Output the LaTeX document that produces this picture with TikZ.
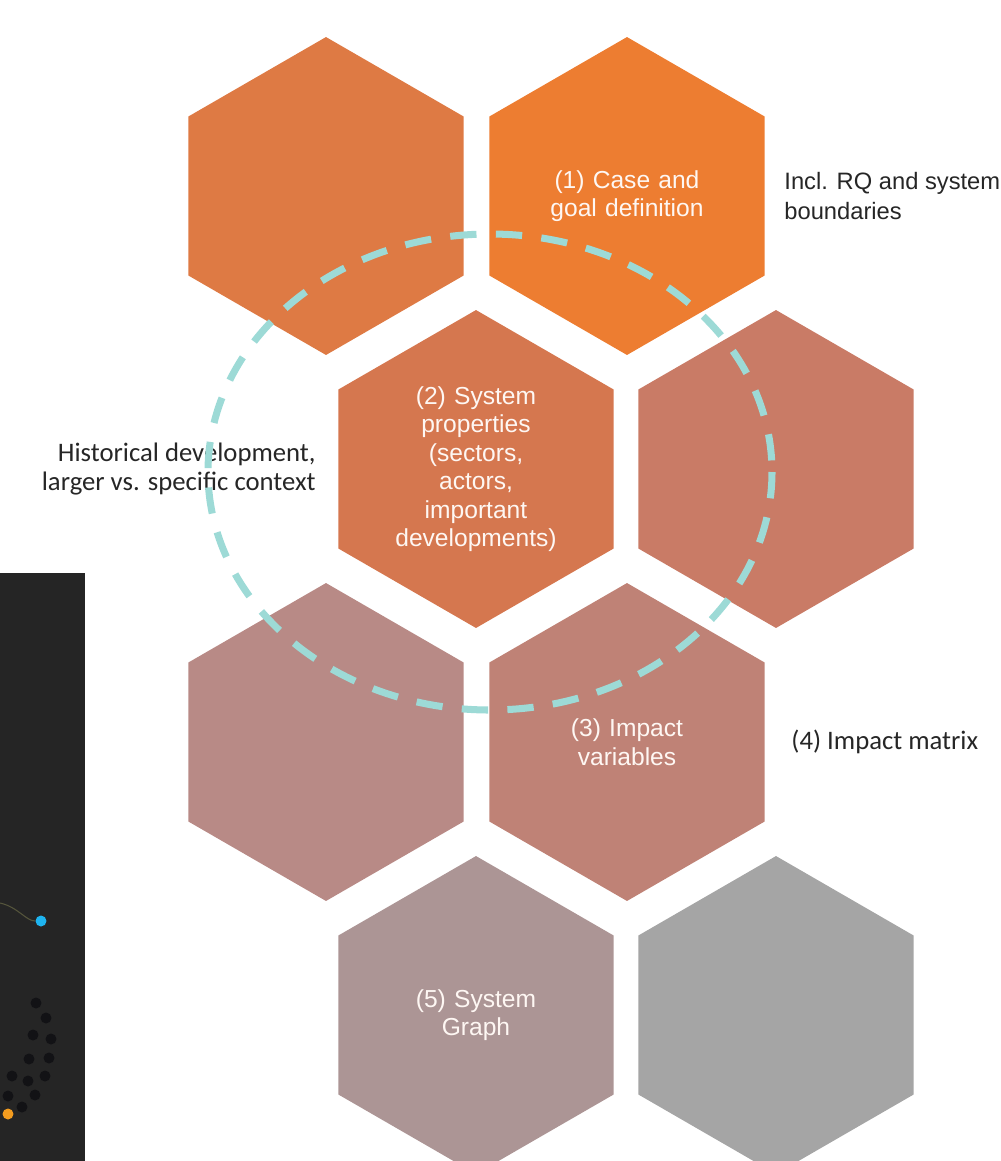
\documentclass[tikz,border=0pt]{standalone}
\usepackage{fontspec}
\setmainfont{Liberation Sans}
\newfontfamily\arialfont{Liberation Sans}
\newfontfamily\notefont{Carlito}
\usepackage{xcolor}
\definecolor{hexa}{HTML}{DE7A44}
\definecolor{hexb}{HTML}{ED7D31}
\definecolor{hexc}{HTML}{D5774F}
\definecolor{hexd}{HTML}{C97B66}
\definecolor{hexe}{HTML}{B88A86}
\definecolor{hexf}{HTML}{BF8276}
\definecolor{hexg}{HTML}{AC9595}
\definecolor{hexh}{HTML}{A5A5A5}
\definecolor{ringteal}{HTML}{9DDAD6}
\definecolor{textdark}{HTML}{262626}
\definecolor{panelbg}{HTML}{252525}
\definecolor{dotblue}{HTML}{1EB4F0}
\definecolor{dotorange}{HTML}{F39C1F}
\definecolor{dotdark}{HTML}{121215}
\definecolor{trail}{HTML}{55553C}
\usepackage{tikz}
\usetikzlibrary{shapes.geometric,positioning}

\begin{document}
\begin{tikzpicture}[x=0.02cm, y=-0.02cm,
    hex/.style={regular polygon, regular polygon sides=6, shape border rotate=30, minimum size=6.36cm, inner sep=0pt, text=white!94!hexb, font=\arialfont\fontsize{14}{16.2}\selectfont, align=center, text width=3.8cm},
    sidenote/.style={font=\arialfont\fontsize{13.5}{17}\selectfont, text=textdark, align=left, inner sep=0pt},
    calnote/.style={font=\notefont\fontsize{15.2}{17}\selectfont, text=textdark, inner sep=0pt},
    ring/.style={draw=ringteal, line width=4pt, dash pattern=on 15pt off 11pt},
    dot/.style={circle, inner sep=0pt, minimum size=0.22cm}
  ]
    \useasboundingbox (0,0) rectangle (1001,1161);
    \clip (0,0) rectangle (1001,1161);
    \foreach \id/\x/\y/\col/\txt in {
      a/326/196/hexa/{},
      b/627/196/hexb/{(1) Case and\\goal definition},
      c/476/469/hexc/{(2) System\\properties\\(sectors,\\actors,\\important\\developments)},
      d/776/469/hexd/{},
      e/326/742/hexe/{},
      f/627/742/hexf/{(3) Impact\\variables},
      g/476/1015/hexg/{(5) System\\Graph},
      h/776/1015/hexh/{}
    } {
      \node[hex, fill=\col] (hex\id) at (\x,\y) {\txt};
    }
    \node[sidenote, right=0.38cm of hexb] (incl) {Incl. RQ and system\\boundaries};
    \node[calnote, align=right, left=0.44cm of hexc] (hist) {Historical development,\\larger vs. specific context};
    \node[calnote, right=0.52cm of hexf] (matrix) {(4) Impact matrix};
    \draw[ring] (490,472) ellipse [x radius=282, y radius=238];
    \fill[panelbg] (0,573) rectangle (85,1161);
    \node[dot, fill=dotblue] (blue) at (41,921) {};
    \coordinate (trailstart) at (0,903);
    \draw[trail, line width=0.6pt] (trailstart) .. controls (18,907) and (26,921) .. (blue.west);
    \foreach \x/\y [count=\i] in {36/1003, 46/1018, 33/1035, 51/1039, 29/1059, 49/1058,
      12/1076, 28/1081, 45/1076, 8/1096, 35/1095, 22/1107} {
      \node[dot, fill=dotdark] (cluster\i) at (\x,\y) {};
    }
    \node[dot, fill=dotorange] (orange) at (8,1114) {};
  \end{tikzpicture}
\end{document}
